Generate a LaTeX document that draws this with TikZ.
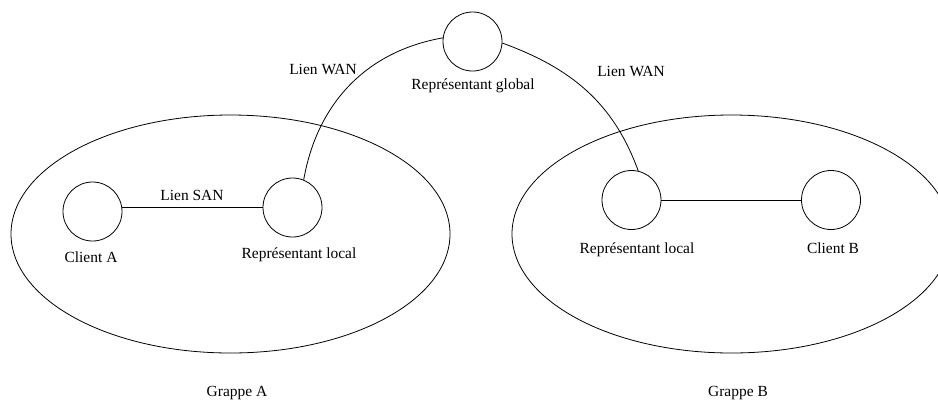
\documentclass[tikz,border=0pt]{standalone}
\usepackage{fontspec}
\setmainfont{Liberation Serif}
\begin{document}
\begin{tikzpicture}[x=0.75pt,y=-0.75pt,
  line width=0.6pt,
  host/.style={draw,circle,minimum size=44.25pt,inner sep=0pt},
  lbl/.style={anchor=base,inner sep=0pt,font=\fontsize{11.6}{13.5}\selectfont}]
  \useasboundingbox (0,0) rectangle (938,401);
  \clip (0,0) rectangle (938,401);

  % the two clusters
  \draw (230.5,234) ellipse [x radius=219.5, y radius=119];
  \draw (731.5,234) ellipse [x radius=219.5, y radius=119];

  % machines
  \node[host] (glob) at (472.5,41.5) {};
  \node[host] (cliA) at (92.5,211.5) {};
  \node[host] (repA) at (292.5,207.5) {};
  \node[host] (repB) at (631.5,200) {};
  \node[host] (cliB) at (831,200) {};

  % links
  \draw (repA.west) -- (cliA.east |- repA.west);
  \draw (repB) -- (cliB);
  \draw (repA.68) to[out=80,in=190] (glob.173);
  \draw (glob.-3) to[out=-20,in=110] (repB.77);

  % labels
  \node[lbl] (tglob) at (473,89) {Représentant global};
  \node[lbl] (twanA) at (323,74) {Lien WAN};
  \node[lbl] (twanB) at (631,76.5) {Lien WAN};
  \node[lbl] (tsan) at (192,200) {Lien SAN};
  \node[lbl] (tcliA) at (91,262) {Client A};
  \node[lbl] (trepA) at (299,258) {Représentant local};
  \node[lbl] (trepB) at (637,253) {Représentant local};
  \node[lbl] (tcliB) at (833,253) {Client B};
  \node[lbl] (tgrA) at (237,396) {Grappe A};
  \node[lbl] (tgrB) at (738,396.5) {Grappe B};
\end{tikzpicture}
\end{document}
